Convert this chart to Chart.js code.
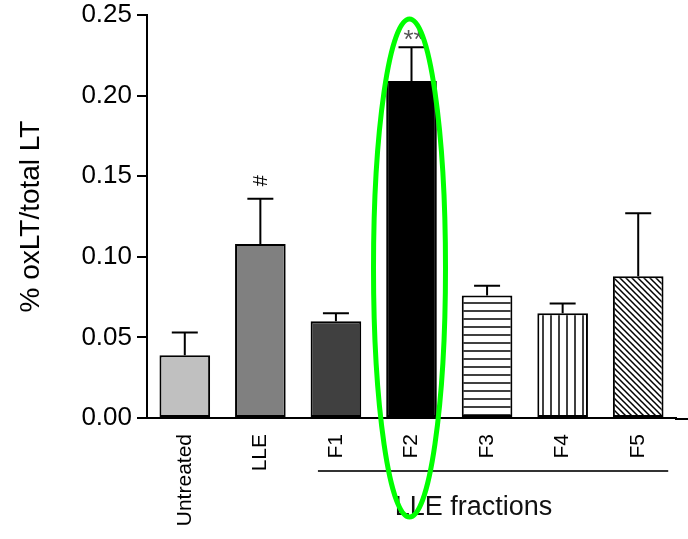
<!DOCTYPE html>
<html>
<head>
<meta charset="utf-8">
<script src="https://cdn.jsdelivr.net/npm/chart.js@4/dist/chart.umd.min.js"></script>
<style>
  html, body { margin: 0; padding: 0; background: #fff; }
</style>
</head>
<body>
<canvas id="grafico" width="688" height="539"></canvas>
<script>
// dados
const categorias = ['Untreated', 'LLE', 'F1', 'F2', 'F3', 'F4', 'F5'];
const medias = [0.039, 0.108, 0.060, 0.209, 0.076, 0.065, 0.088];
const erros = [0.014, 0.028, 0.005, 0.021, 0.006, 0.006, 0.039];
const marcas = ['', '#', '', '**', '', '', ''];
const ticksY = [0, 0.05, 0.10, 0.15, 0.20, 0.25];

const FONTE = "'Liberation Sans', Arial, sans-serif";

// padrao de listras p/ as fracoes F3..F5
function criarPadrao(tipo) {
  const s = tipo === 'diagonal' ? 6 : 8;
  const c = document.createElement('canvas');
  c.width = s; c.height = s;
  const g = c.getContext('2d');
  g.fillStyle = '#fff';
  g.fillRect(0, 0, s, s);
  g.strokeStyle = '#000';
  g.lineWidth = 1.5;
  g.beginPath();
  if (tipo === 'horizontal') {
    g.moveTo(0, s - 1); g.lineTo(s, s - 1);
  } else if (tipo === 'vertical') {
    g.moveTo(s - 1, 0); g.lineTo(s - 1, s);
  } else {
    g.moveTo(-1, -1); g.lineTo(s + 1, s + 1);
    g.moveTo(-1, s - 1); g.lineTo(1, s + 1);
    g.moveTo(s - 1, -1); g.lineTo(s + 1, 1);
  }
  g.stroke();
  return g.createPattern(c, 'repeat');
}

const cores = ['#c0c0c0', '#808080', '#404040', '#000000',
  criarPadrao('horizontal'), criarPadrao('vertical'), criarPadrao('diagonal')];

// barras de erro, marcas de significancia, chave das fracoes e a elipse verde
const extras = {
  id: 'extras',
  afterDatasetsDraw(chart) {
    const ctx = chart.ctx;
    const xs = chart.scales.x;
    const ys = chart.scales.y;
    const area = chart.chartArea;
    const meta = chart.getDatasetMeta(0);

    ctx.save();
    // prolonga o eixo x ate a borda
    ctx.strokeStyle = '#000';
    ctx.lineWidth = 2;
    ctx.beginPath();
    ctx.moveTo(area.right - 1, area.bottom + 1);
    ctx.lineTo(chart.width, area.bottom + 1);
    ctx.stroke();

    meta.data.forEach((bar, i) => {
      const yBar = ys.getPixelForValue(medias[i]);
      const yTop = ys.getPixelForValue(medias[i] + erros[i]);
      ctx.beginPath();
      ctx.moveTo(bar.x, yBar);
      ctx.lineTo(bar.x, yTop);
      ctx.moveTo(bar.x - 13, yTop);
      ctx.lineTo(bar.x + 13, yTop);
      ctx.stroke();

      if (marcas[i] === '#') {
        ctx.save();
        ctx.translate(bar.x + 1, yTop - 18);
        ctx.rotate(-Math.PI / 2);
        ctx.fillStyle = '#000';
        ctx.font = '20px ' + FONTE;
        ctx.textAlign = 'center';
        ctx.textBaseline = 'middle';
        ctx.fillText('#', 0, 0);
        ctx.restore();
      } else if (marcas[i]) {
        ctx.fillStyle = '#555';
        ctx.font = '26px ' + FONTE;
        ctx.textAlign = 'center';
        ctx.textBaseline = 'middle';
        ctx.fillText(marcas[i], bar.x + 2, yTop - 6);
      }
    });

    // chave "LLE fractions"
    const xIni = xs.getPixelForValue(2) - 18;
    const xFim = xs.getPixelForValue(6) + 30;
    ctx.strokeStyle = '#333';
    ctx.beginPath();
    ctx.moveTo(xIni, area.bottom + 53);
    ctx.lineTo(xFim, area.bottom + 53);
    ctx.stroke();
    ctx.fillStyle = '#111';
    ctx.font = '27px ' + FONTE;
    ctx.textAlign = 'center';
    ctx.textBaseline = 'middle';
    ctx.fillText('LLE fractions', xs.getPixelForValue(3) + 62, area.bottom + 90);

    // destaque em F2
    const cx = xs.getPixelForValue(3) - 2;
    const topo = area.top + 4;
    const base = area.bottom + 99;
    ctx.strokeStyle = '#00ff00';
    ctx.lineWidth = 5;
    ctx.beginPath();
    ctx.ellipse(cx, (topo + base) / 2, 36, (base - topo) / 2, 0, 0, Math.PI * 2);
    ctx.stroke();
    ctx.restore();
  }
};

new Chart(document.getElementById('grafico'), {
  type: 'bar',
  data: {
    labels: categorias,
    datasets: [{
      data: medias,
      backgroundColor: cores,
      borderColor: '#000',
      borderWidth: 2,
      borderSkipped: false,
      barPercentage: 0.67,
      categoryPercentage: 1,
    }],
  },
  options: {
    responsive: false,
    animation: false,
    devicePixelRatio: 1,
    layout: { padding: { top: 15, right: 12, left: 0, bottom: 0 } },
    plugins: { legend: { display: false }, tooltip: { enabled: false } },
    scales: {
      x: {
        offset: true,
        grid: { display: false, drawTicks: false },
        border: { display: true, color: '#000', width: 2 },
        ticks: {
          color: '#000',
          font: { family: FONTE, size: 21 },
          minRotation: 90,
          maxRotation: 90,
          padding: 16,
          autoSkip: false,
        },
        afterFit: s => { s.height = 121; s.paddingLeft = 0; s.paddingRight = 0; },
      },
      y: {
        min: 0,
        max: 0.25,
        afterBuildTicks: s => { s.ticks = ticksY.map(v => ({ value: v })); },
        ticks: {
          color: '#000',
          font: { family: FONTE, size: 26 },
          padding: 5,
          callback: v => v.toFixed(2),
        },
        grid: { drawOnChartArea: false, tickLength: 10, color: '#000', lineWidth: 2 },
        border: { color: '#000', width: 2 },
        title: {
          display: true,
          text: '% oxLT/total LT',
          color: '#000',
          font: { family: FONTE, size: 28 },
          padding: { top: 14, bottom: 0 },
        },
        afterFit: s => { s.width = 147; s.paddingTop = 0; s.paddingBottom = 0; },
      },
    },
  },
  plugins: [extras],
});
</script>
</body>
</html>
